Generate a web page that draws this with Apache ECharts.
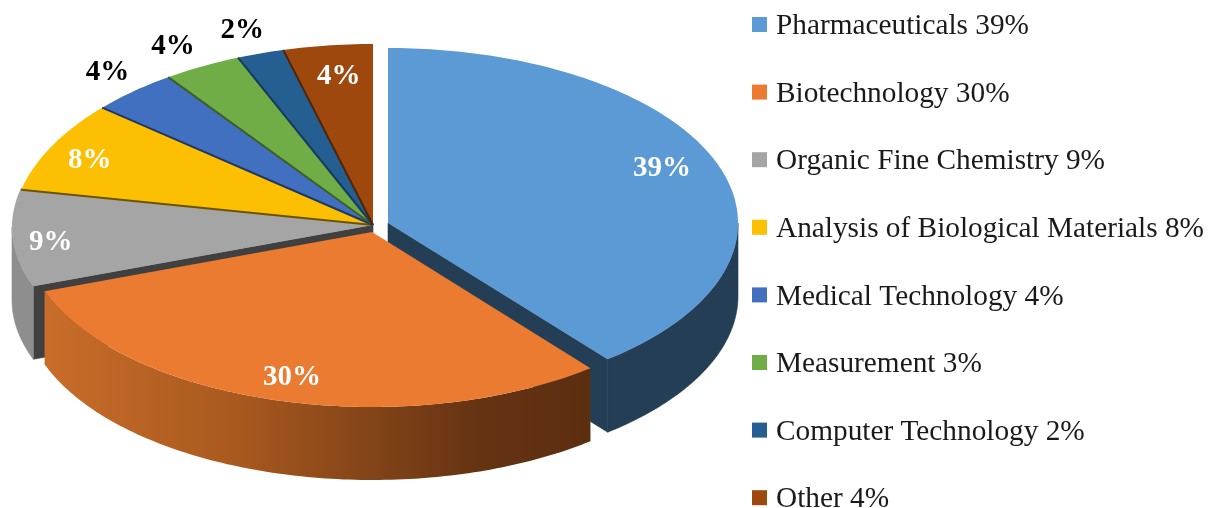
<!DOCTYPE html>
<html>
<head>
<meta charset="utf-8">
<style>html,body{margin:0;padding:0;background:#fff}#c{width:1208px;height:508px}</style>
<script src="https://cdn.jsdelivr.net/npm/echarts@6/dist/echarts.min.js"></script>
</head>
<body>
<div id="c"></div>
<script>
var legendNames = ['Pharmaceuticals 39%','Biotechnology 30%','Organic Fine Chemistry 9%','Analysis of Biological Materials 8%','Medical Technology 4%','Measurement 3%','Computer Technology 2%','Other 4%'];
var shares = [39.2,30.3,9.1,7.9,3.9,3.5,2.1,4.0];
var sliceLabels = ['39%','30%','9%','8%','4%','4%','2%','4%'];

// styling and layout, kept apart from the values
var colors = ['#5B9AD5','#EA7B30','#A5A5A5','#FCBF01','#4270C0','#70AD47','#255E91','#9E480E'];
var edgeColors = [null,null,null,'#6b5400','#1f3864','#3d5f26','#173b5c','#4f2407'];
var sideColors = ['#243f55',null,'#8e8e8e',null,null,null,null,null];
var wallColors = ['#243f55',null,'#404040',null,null,null,null,null];
var wallAt = ['end',null,'start',null,null,null,null,null];
var apexes = [[388,223],[372,232],[373,225],[373,225],[373,225],[373,225],[373,225],[373,225]];
var rimCenters = [[388,223],[372,232],[373,227],[373,232],[373,232],[373,232],[373,232],[373,232]];
var radii = [[350,175],[348,175],[361,175],[361,188],[361,188],[361,188],[361,188],[361,188]];
var labelNudge = [[-56,3.5],[14,-23],[38,5],[38,14.5],[-26,-18.4],[-29,-19.6],[-18,-22.4],[11,31]];
var labelFill = ['#fff','#fff','#fff','#fff','#000','#000','#000','#fff'];
var depth = 73;
var drawOrder = [2,3,4,5,6,7,0,1];

var cumulative = [];
shares.reduce(function (sum, v, i) { cumulative[i] = [sum * 3.6, (sum + v) * 3.6]; return sum + v; }, 0);

function rim(i, deg, dy) {
  var t = deg * Math.PI / 180;
  return [rimCenters[i][0] + radii[i][0] * Math.sin(t), rimCenters[i][1] - radii[i][1] * Math.cos(t) + (dy || 0)];
}
function arc(i, a, b, dy) {
  var pts = [], n = Math.max(2, Math.ceil(b - a));
  for (var k = 0; k <= n; k++) pts.push(rim(i, a + (b - a) * k / n, dy));
  return pts;
}
sideColors[1] = new echarts.graphic.LinearGradient(0, 0, 1, 0, [
  {offset: 0, color: '#c96d2a'},
  {offset: 0.35, color: '#a9591f'},
  {offset: 0.8, color: '#643312'},
  {offset: 1, color: '#5c2e10'}
]);

function renderSlice(params, api) {
  var i = drawOrder[params.seriesIndex];
  var a = cumulative[i][0], b = cumulative[i][1], c = apexes[i];
  var kids = [];
  if (wallAt[i]) {
    var p = rim(i, wallAt[i] === 'end' ? b : a, 0);
    kids.push({type: 'polygon', shape: {points: [c, p, [p[0], p[1] + depth], [c[0], c[1] + depth]]},
      style: {fill: wallColors[i], stroke: wallColors[i], lineWidth: 0.6}});
  }
  var sa = Math.max(a, 90), sb = Math.min(b, 270);
  if (sideColors[i] && sa < sb) {
    kids.push({type: 'polygon', shape: {points: arc(i, sa, sb, 0).concat(arc(i, sa, sb, depth).reverse())},
      style: {fill: sideColors[i], stroke: i === 1 ? null : sideColors[i], lineWidth: 0.6}});
  }
  kids.push({type: 'polygon', shape: {points: [c].concat(arc(i, a, b, 0))}, style: {fill: colors[i]}});
  if (edgeColors[i]) {
    kids.push({type: 'polyline', shape: {points: [c, rim(i, a, 0)]}, style: {fill: null, stroke: edgeColors[i], lineWidth: 2}});
  }
  var m = rim(i, (a + b) / 2, 0);
  kids.push({type: 'text', z2: 10, style: {
    x: m[0] + labelNudge[i][0], y: m[1] + labelNudge[i][1], text: sliceLabels[i],
    fill: labelFill[i], align: 'center', verticalAlign: 'middle',
    font: 'bold 29px "Liberation Serif"'
  }});
  return {type: 'group', children: kids};
}

var chart = echarts.init(document.getElementById('c'), null, {renderer: 'canvas'});
chart.setOption({
  animation: false,
  backgroundColor: '#fff',
  legend: {
    show: true, orient: 'vertical', left: 752, top: 8, height: 520, padding: 0,
    data: legendNames, icon: 'rect', itemWidth: 15, itemHeight: 15, itemGap: 34.6,
    selectedMode: false,
    formatter: '{t|{name}}',
    textStyle: {fontFamily: 'Liberation Serif', fontSize: 29.3, color: '#1a1a1a',
      rich: {t: {fontFamily: 'Liberation Serif', fontSize: 29.3, lineHeight: 29, color: '#1a1a1a', padding: [4, 0, 0, 4]}}}
  },
  series: drawOrder.map(function (i) {
    return {
      type: 'custom', name: legendNames[i], coordinateSystem: 'none', silent: true,
      itemStyle: {color: colors[i]},
      data: [[shares[i]]], renderItem: renderSlice
    };
  })
});
</script>
</body>
</html>
